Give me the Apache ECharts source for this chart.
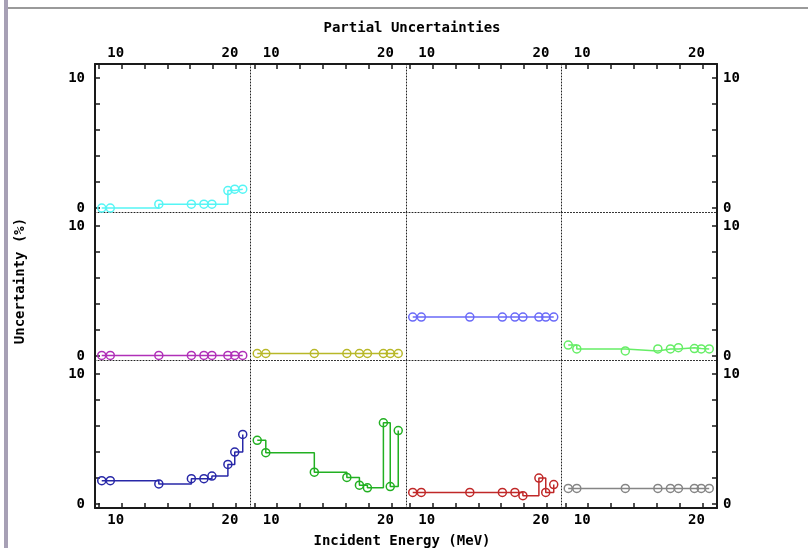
<!DOCTYPE html>
<html><head><meta charset="utf-8">
<script src="https://cdn.jsdelivr.net/npm/echarts@6/dist/echarts.min.js"></script>
<style>html,body{margin:0;padding:0;background:#fff}#c{width:808px;height:548px}</style>
</head><body><div id="c"></div>
<script>
// ---- data ----
const energy = [8.25, 9.0, 13.25, 16.1, 17.2, 17.9, 19.3, 19.9, 20.6];
const xTickValues = [8, 10, 12, 14, 16, 18, 20];
const xTickLabels = [10, 20];
const yTickValues = [0, 2, 4, 6, 8, 10];
const yTickLabels = [0, 10];
const cyanVals   = [0.0, 0.0, 0.3, 0.3, 0.3, 0.3, 1.35, 1.45, 1.45];
const purpleVals = [0.05, 0.05, 0.05, 0.05, 0.05, 0.05, 0.05, 0.05, 0.05];
const oliveVals  = [0.2, 0.2, 0.2, 0.2, 0.2, 0.2, 0.2, 0.2, 0.2];
const blueVals   = [3.0, 3.0, 3.0, 3.0, 3.0, 3.0, 3.0, 3.0, 3.0];
const limeVals   = [0.85, 0.55, 0.4, 0.55, 0.55, 0.65, 0.58, 0.55, 0.55];
const navyVals   = [1.8, 1.8, 1.55, 1.95, 1.95, 2.15, 3.05, 4.0, 5.35];
const greenVals  = [4.9, 3.95, 2.45, 2.05, 1.45, 1.25, 6.25, 1.35, 5.65];
const redVals    = [0.9, 0.9, 0.9, 0.9, 0.9, 0.65, 2.0, 0.9, 1.5];
const grayVals   = [1.2, 1.2, 1.2, 1.2, 1.2, 1.2, 1.2, 1.2, 1.2];

const panels = [
  {row: 0, col: 0, values: cyanVals,   color: '#55f5f5'},
  {row: 1, col: 0, values: purpleVals, color: '#b030b8'},
  {row: 1, col: 1, values: oliveVals,  color: '#b8b828'},
  {row: 1, col: 2, values: blueVals,   color: '#6a6af8'},
  {row: 1, col: 3, values: limeVals,   color: '#66ee66'},
  {row: 2, col: 0, values: navyVals,   color: '#2828a8'},
  {row: 2, col: 1, values: greenVals,  color: '#22b022'},
  {row: 2, col: 2, values: redVals,    color: '#c02828'},
  {row: 2, col: 3, values: grayVals,   color: '#858585'}
];

// ---- layout ----
const L = 95, T = 64, W = 155.5, H = 148;
const XMIN = 7.66, XMAX = 21.28, YMIN = -0.3, YMAX = 11.07;
const font = {fontFamily: 'DejaVu Sans Mono', fontWeight: 'bold', fontSize: 14, color: '#000'};
const solid = {color: '#1a1a1a', width: 2};
const dotted = {color: '#222', width: 1, type: [1, 2]};
const tickStyle = {color: '#1a1a1a', width: 1.5};

const grids = [], xAxes = [], yAxes = [], series = [];
const gridXAxis = {}, gridYAxis = {};
for (let r = 0; r < 3; r++) {
  for (let c = 0; c < 4; c++) {
    const g = grids.length;
    grids.push({left: L + c * W, top: T + r * H, width: W, height: H, containLabel: false});
    const edge = r === 2;
    gridXAxis[r + '_' + c] = xAxes.length;
    xAxes.push({
      type: 'value', gridIndex: g, min: XMIN, max: XMAX, position: 'bottom',
      axisLine: {show: true, onZero: false, lineStyle: edge ? solid : dotted},
      axisTick: edge ? {show: true, inside: true, length: 5, customValues: xTickValues, lineStyle: tickStyle} : {show: false},
      axisLabel: edge ? Object.assign({show: true, customValues: xTickLabels, margin: 5, padding: [0, 12, 0, 0]}, font) : {show: false},
      splitLine: {show: false}
    });
    if (r === 0) {
      xAxes.push({
        type: 'value', gridIndex: g, min: XMIN, max: XMAX, position: 'top',
        axisLine: {show: true, onZero: false, lineStyle: solid},
        axisTick: {show: true, inside: true, length: 5, customValues: xTickValues, lineStyle: tickStyle},
        axisLabel: Object.assign({show: true, customValues: xTickLabels, margin: 4, padding: [0, 12, 0, 0]}, font),
        splitLine: {show: false}
      });
    }
    const first = c === 0;
    gridYAxis[r + '_' + c] = yAxes.length;
    yAxes.push({
      type: 'value', gridIndex: g, min: YMIN, max: YMAX, position: 'left',
      axisLine: {show: true, onZero: false, lineStyle: first ? solid : dotted},
      axisTick: first ? {show: true, inside: true, length: 5, customValues: yTickValues, lineStyle: tickStyle} : {show: false},
      axisLabel: first ? Object.assign({show: true, customValues: yTickLabels, margin: 10}, font) : {show: false},
      splitLine: {show: false}
    });
    if (c === 3) {
      yAxes.push({
        type: 'value', gridIndex: g, min: YMIN, max: YMAX, position: 'right',
        axisLine: {show: true, onZero: false, lineStyle: solid},
        axisTick: {show: true, inside: true, length: 5, customValues: yTickValues, lineStyle: tickStyle},
        axisLabel: Object.assign({show: true, customValues: yTickLabels, margin: 6}, font),
        splitLine: {show: false}
      });
    }
  }
}

panels.forEach(p => {
  series.push({
    type: 'line', step: 'end',
    xAxisIndex: gridXAxis[p.row + '_' + p.col],
    yAxisIndex: gridYAxis[p.row + '_' + p.col],
    data: energy.map((e, i) => [e, p.values[i]]),
    symbol: 'circle', symbolSize: 8,
    itemStyle: {color: 'rgba(0,0,0,0)', borderColor: p.color, borderWidth: 1.5},
    lineStyle: {color: p.color, width: 1.5},
    clip: false
  });
});

const chart = echarts.init(document.getElementById('c'), null, {renderer: 'canvas'});
chart.setOption({
  animation: false,
  backgroundColor: '#fff',
  title: [
    {text: 'Partial Uncertainties', left: 407, top: 16, textAlign: 'center',
     textStyle: {fontFamily: 'DejaVu Sans Mono', fontWeight: 'bold', fontSize: 14, color: '#000'}},
    {text: 'Incident Energy (MeV)', left: 397, top: 529, textAlign: 'center',
     textStyle: {fontFamily: 'DejaVu Sans Mono', fontWeight: 'bold', fontSize: 14, color: '#000'}}
  ],
  graphic: [
    {type: 'rect', shape: {x: 4, y: 0, width: 4, height: 548}, style: {fill: '#a7a0b5'}},
    {type: 'rect', shape: {x: 8, y: 7, width: 800, height: 2}, style: {fill: '#9a9a9a'}},
    {type: 'text', x: 20, y: 281, rotation: Math.PI / 2,
     style: {text: 'Uncertainty (%)', fontFamily: 'DejaVu Sans Mono', fontWeight: 'bold', fontSize: 14, fill: '#000', align: 'center', verticalAlign: 'middle'}}
  ],
  grid: grids,
  xAxis: xAxes,
  yAxis: yAxes,
  series: series
});
</script></body></html>
